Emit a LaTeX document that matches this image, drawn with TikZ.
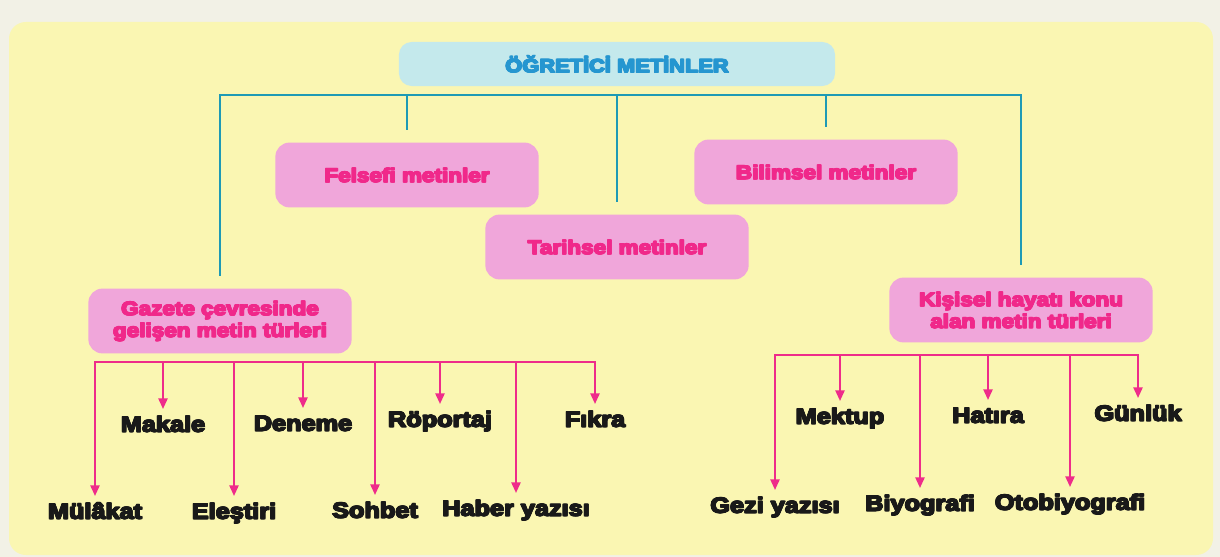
\documentclass[tikz,border=0pt]{standalone}
\usepackage{fontspec}
\newfontfamily\heavy{Liberation Sans Bold}[FakeStretch=1.16,FakeBold=2.5]
\usetikzlibrary{arrows.meta}
\newcommand\fat[1]{\leavevmode\rlap{#1}\rlap{\raisebox{0.5pt}{#1}}\rlap{\kern0.3pt\raisebox{0.25pt}{#1}}\rlap{\kern0.65pt\raisebox{0.5pt}{#1}}\kern0.65pt#1}
\definecolor{paper}{HTML}{F2F1E6}
\definecolor{panel}{HTML}{FAF6B2}
\definecolor{topfill}{HTML}{C4E9EC}
\definecolor{toptext}{HTML}{2596D0}
\definecolor{pinkfill}{HTML}{F0A6DA}
\definecolor{pinktext}{HTML}{F0288A}
\definecolor{blueline}{HTML}{1E9AB5}
\definecolor{pinkline}{HTML}{EE2C8A}
\begin{document}
\begin{tikzpicture}[x=0.025cm,y=-0.025cm,
  topbox/.style={fill=topfill, rounded corners=9pt, minimum width=10.9cm, minimum height=1.1cm,
    inner sep=0pt, text=toptext, font=\heavy\fontsize{13.4}{15}\selectfont},
  catbox/.style={fill=pinkfill, rounded corners=10pt, minimum width=6.58cm, minimum height=1.62cm,
    inner sep=0pt, align=center, text=pinktext, font=\heavy\fontsize{13.8}{15.5}\selectfont},
  lbl/.style={inner sep=0pt, anchor=north, text height=11.2pt, text depth=3pt,
    font=\heavy\fontsize{15.5}{18}\selectfont, text=black!90},
  bline/.style={draw=blueline, line width=1.4pt, line cap=rect},
  pline/.style={draw=pinkline, line width=1.3pt, line cap=rect},
  parrow/.style={draw=pinkline, line width=1.3pt, -{Triangle[length=7.5pt,width=6.5pt]}, shorten >=5pt}
]
\useasboundingbox (0,0) rectangle (1220,557);
\fill[paper] (0,0) rectangle (1220,557);
\fill[panel, rounded corners=12pt] (9,22) rectangle (1213,555);

% categories
\node[topbox] (top) at (617,64) {\fat{ÖĞRETİCİ METİNLER}};
\node[catbox] (fel) at (407,175) {\fat{Felsefi metinler}};
\node[catbox] (bil) at (826,172) {\fat{Bilimsel metinler}};
\node[catbox] (tar) at (617,247) {\fat{Tarihsel metinler}};
\node[catbox] (gaz) at (220,321) {\fat{Gazete çevresinde}\\\fat{gelişen metin türleri}};
\node[catbox] (kis) at (1021,310) {\fat{Kişisel hayatı konu}\\\fat{alan metin türleri}};

% blue bus
\coordinate (bus) at (0,95);
\draw[bline] (gaz.north |- bus) -- (kis.north |- bus);
\foreach \n in {gaz,fel,tar,bil,kis}
  \draw[bline, line cap=butt, shorten >=9pt] (\n.north |- bus) -- (\n.north);

% labels, left group
\node[lbl] (mul) at (95,503) {\fat{Mülâkat}};
\node[lbl] (mak) at (163,416) {\fat{Makale}};
\node[lbl] (ele) at (234,503) {\fat{Eleştiri}};
\node[lbl] (den) at (303,415) {\fat{Deneme}};
\node[lbl] (soh) at (375,502) {\fat{Sohbet}};
\node[lbl] (rop) at (440,411) {\fat{Röportaj}};
\node[lbl] (hab) at (516,500) {\fat{Haber yazısı}};
\node[lbl] (fik) at (595,411) {\fat{Fıkra}};
% labels, right group
\node[lbl] (gez) at (775,497) {\fat{Gezi yazısı}};
\node[lbl] (mek) at (840,408) {\fat{Mektup}};
\node[lbl] (biy) at (920,495) {\fat{Biyografi}};
\node[lbl] (hat) at (988,407) {\fat{Hatıra}};
\node[lbl] (oto) at (1070,494) {\fat{Otobiyografi}};
\node[lbl] (gun) at (1138,405) {\fat{Günlük}};

% pink buses
\coordinate (gbus) at (0,362);
\coordinate (kbus) at (0,355);
\draw[pline] (mul.north |- gbus) -- (fik.north |- gbus);
\foreach \n in {mul,mak,ele,den,soh,rop,hab,fik}
  \draw[parrow] (\n.north |- gbus) -- (\n.north);
\draw[pline] (gez.north |- kbus) -- (gun.north |- kbus);
\foreach \n in {gez,mek,biy,hat,oto,gun}
  \draw[parrow] (\n.north |- kbus) -- (\n.north);
\end{tikzpicture}
\end{document}
